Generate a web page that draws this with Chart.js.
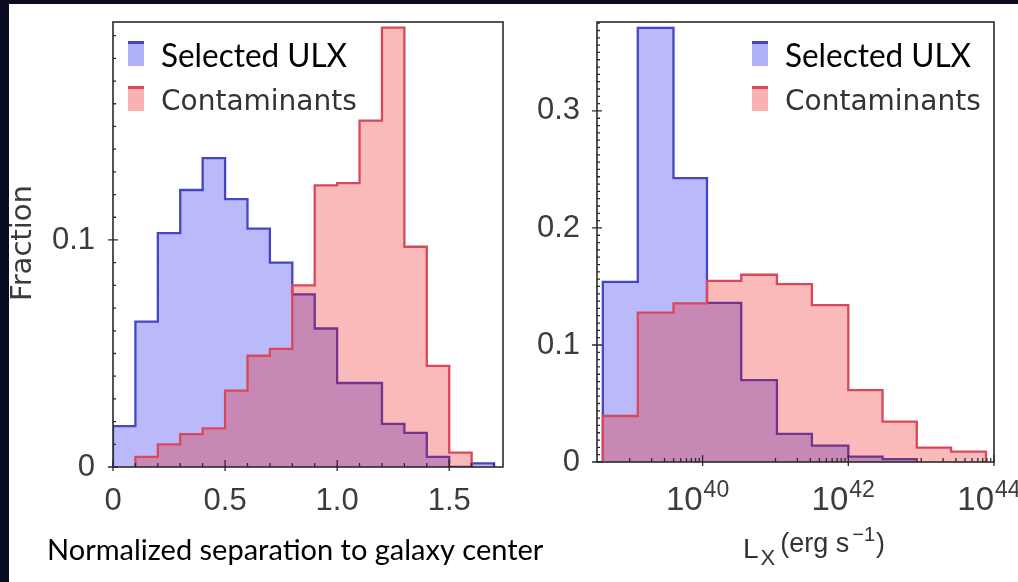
<!DOCTYPE html>
<html>
<head>
<meta charset="utf-8">
<script src="https://cdn.jsdelivr.net/npm/chart.js@4.4.1/dist/chart.umd.min.js"></script>
<style>
  html, body { margin: 0; padding: 0; }
  body { width: 1018px; height: 582px; background: #0a0d22; position: relative; overflow: hidden; }
  #sheet { position: absolute; left: 9px; top: 4px; right: 0; bottom: 0; background: #fff; }
  #sepChart { position: absolute; left: 0; top: 0; }
  #lumChart { position: absolute; left: 510px; top: 0; }
</style>
</head>
<body>
<div id="sheet"></div>
<canvas id="sepChart" width="580" height="582"></canvas>
<canvas id="lumChart" width="508" height="582"></canvas>
<script>
// ========== DATA ==========

// left panel: normalized separation to galaxy center, bin edges + fractions
const sepEdges = [0, 0.1, 0.2, 0.3, 0.4, 0.5, 0.6, 0.7, 0.8, 0.9, 1.0, 1.1, 1.2, 1.3, 1.4, 1.5, 1.6, 1.7];
const sepUlx = [0.018, 0.064, 0.103, 0.122, 0.136, 0.118, 0.105, 0.090, 0.076, 0.061, 0.037, 0.037, 0.019, 0.015, 0.0045, 0, 0.0016];
const sepCont = [0, 0.0045, 0.010, 0.0145, 0.017, 0.0336, 0.049, 0.052, 0.080, 0.124, 0.125, 0.1526, 0.1935, 0.097, 0.0445, 0.0063, 0];

// right panel: L_X, bin edges given as log10(erg/s)
const lumEdgesLog = [38.63, 39.11, 39.60, 40.06, 40.53, 41.02, 41.50, 42.00, 42.47, 42.94, 43.41, 43.89];
const lumUlx = [0.154, 0.371, 0.2425, 0.136, 0.070, 0.024, 0.014, 0.0046, 0.0025, 0, 0];
const lumCont = [0.0393, 0.1276, 0.1356, 0.1547, 0.160, 0.152, 0.134, 0.0615, 0.0345, 0.0122, 0.0088];

// tick labels
const sepXTicks = [0, 0.5, 1.0, 1.5];
const sepYTicks = [0, 0.1];
const lumYTicks = [0, 0.1, 0.2, 0.3];
const lumXTickExp = [40, 42, 44];
const lumMinorDecades = [39, 41, 43];

const seriesNames = ['Selected ULX', 'Contaminants'];

// ========== STYLE ==========

const BLUE_LINE = '#4646c4';
const BLUE_FILL = 'rgba(0, 0, 235, 0.27)';
const RED_LINE = '#d8485a';
const RED_FILL = 'rgba(235, 0, 0, 0.27)';
const AXIS_COLOR = '#2b2b2b';
const TICK_FONT = {family: 'Liberation Sans', size: 31};
const TICK_COLOR = '#3c3c3c';

// ========== HELPERS ==========

// histogram outline as step points, trimmed of empty bins at both ends
function stepPoints(edges, values, toX) {
    const a = values.findIndex(v => v > 0);
    let b = values.length - 1;
    while (b > a && values[b] === 0) b--;
    const pts = [{x: toX(edges[a]), y: 0}];
    for (let i = a; i <= b; i++) {
        pts.push({x: toX(edges[i]), y: values[i]});
    }
    pts.push({x: toX(edges[b + 1]), y: 0});
    return pts;
}

function histSet(label, pts, line, fill, order) {
    return {
        label: label,
        data: pts,
        borderColor: line,
        backgroundColor: fill,
        borderWidth: 2.3,
        fill: 'origin',
        stepped: 'before',
        pointRadius: 0,
        order: order
    };
}

const fmtTick = v => (v === 0 ? '0' : v.toFixed(1));

// fixed axis box, no extra label padding pushing the plot area around
const fixSize = (w, h) => s => {
    if (w !== null) s.width = w;
    if (h !== null) s.height = h;
    s.paddingTop = 0;
    s.paddingBottom = 0;
    s.paddingLeft = 0;
    s.paddingRight = 0;
};

// ========== PLUGINS ==========

// box around the plot plus inward minor / major tick marks
const frameTicks = {
    id: 'frameTicks',
    afterDatasetsDraw(chart, args, opts) {
        const {ctx, chartArea: a, scales: {x, y}} = chart;
        ctx.save();
        ctx.strokeStyle = AXIS_COLOR;
        ctx.lineWidth = 1.6;
        ctx.strokeRect(a.left, a.top, a.right - a.left, a.bottom - a.top);

        ctx.lineWidth = 1.3;
        ctx.beginPath();
        opts.xMinor.forEach(v => {
            const px = x.getPixelForValue(v);
            if (px < a.left - 1 || px > a.right + 1) return;
            ctx.moveTo(px, a.bottom);
            ctx.lineTo(px, a.bottom - 4);
        });
        opts.xMajor.forEach(v => {
            const px = x.getPixelForValue(v);
            ctx.moveTo(px, a.bottom + 4);
            ctx.lineTo(px, a.bottom - 7);
        });
        opts.yMinor.forEach(v => {
            const py = y.getPixelForValue(v);
            if (py < a.top + 1) return;
            ctx.moveTo(a.left, py);
            ctx.lineTo(a.left + 3, py);
        });
        opts.yMajor.forEach(v => {
            const py = y.getPixelForValue(v);
            ctx.moveTo(a.left - 5, py);
            ctx.lineTo(a.left + 5, py);
        });
        ctx.stroke();
        ctx.restore();
    }
};

// legend drawn inside the plot: narrow swatch with a darker top edge
const insideLegend = {
    id: 'insideLegend',
    afterDraw(chart, args, opts) {
        const ctx = chart.ctx;
        ctx.save();
        opts.rows.forEach(row => {
            ctx.fillStyle = row.fill;
            ctx.fillRect(opts.x, row.top, 16, 25);
            ctx.fillStyle = row.line;
            ctx.fillRect(opts.x, row.top, 16, 3);
            ctx.font = row.font;
            ctx.fillStyle = row.color;
            ctx.textAlign = 'left';
            ctx.textBaseline = 'alphabetic';
            ctx.fillText(row.label, opts.textX, row.base, row.maxWidth);
        });
        ctx.restore();
    }
};

// free text: axis titles and composed labels
const freeText = {
    id: 'freeText',
    afterDraw(chart, args, opts) {
        const ctx = chart.ctx;
        ctx.save();
        (opts.items || []).forEach(t => {
            ctx.save();
            ctx.font = t.font;
            ctx.fillStyle = t.color;
            ctx.textAlign = t.align || 'left';
            ctx.textBaseline = t.baseline || 'alphabetic';
            ctx.translate(t.x, t.y);
            if (t.rotate) ctx.rotate(t.rotate);
            if (t.maxWidth) ctx.fillText(t.text, 0, 0, t.maxWidth);
            else ctx.fillText(t.text, 0, 0);
            ctx.restore();
        });
        // runs of text with baseline offsets (sub/superscripts)
        (opts.runs || []).forEach(r => {
            let cx = r.x;
            r.parts.forEach(p => {
                ctx.font = p.size + 'px ' + r.family;
                ctx.fillStyle = r.color;
                ctx.textAlign = 'left';
                ctx.textBaseline = 'alphabetic';
                cx += p.gap || 0;
                ctx.fillText(p.text, cx, r.y + (p.dy || 0));
                cx += ctx.measureText(p.text).width;
            });
        });
        ctx.restore();
    }
};

// powers of ten under the log axis
const powerLabels = {
    id: 'powerLabels',
    afterDraw(chart, args, opts) {
        const {ctx, scales: {x}} = chart;
        ctx.save();
        ctx.fillStyle = TICK_COLOR;
        ctx.textBaseline = 'alphabetic';
        opts.exponents.forEach(e => {
            const px = x.getPixelForValue(Math.pow(10, e));
            ctx.font = '33px "Liberation Sans"';
            ctx.textAlign = 'right';
            ctx.fillText('10', px, opts.base);
            ctx.font = '23px "Liberation Sans"';
            ctx.textAlign = 'left';
            ctx.fillText(String(e), px + 1, opts.base - 13);
        });
        ctx.restore();
    }
};

Chart.register(frameTicks, insideLegend, freeText, powerLabels);

// minor tick positions
const sepXMinor = sepEdges.filter(v => !sepXTicks.some(t => Math.abs(t - v) < 1e-9));
const sepYMinor = [];
for (let i = 1; i < 20; i++) sepYMinor.push(i * 0.01);
const lumYMinor = [];
for (let i = 1; i < 61; i++) lumYMinor.push(i * 0.00625);
const lumXMinor = [];
lumMinorDecades.forEach(d => {
    for (let m = 1; m <= 9; m++) lumXMinor.push(m * Math.pow(10, d));
});

const legendRows = () => [
    {label: seriesNames[0], top: 41, base: 67, fill: 'rgba(0,0,235,0.30)', line: BLUE_LINE,
     font: '32px Lato', color: '#000', maxWidth: 186},
    {label: seriesNames[1], top: 86, base: 110, fill: 'rgba(235,0,0,0.30)', line: RED_LINE,
     font: '28px "DejaVu Sans"', color: '#333', maxWidth: 196}
];

// ========== LEFT CHART ==========

new Chart(document.getElementById('sepChart'), {
    type: 'line',
    data: {
        datasets: [
            histSet(seriesNames[0], stepPoints(sepEdges, sepUlx, v => v), BLUE_LINE, BLUE_FILL, 1),
            histSet(seriesNames[1], stepPoints(sepEdges, sepCont, v => v), RED_LINE, RED_FILL, 0)
        ]
    },
    options: {
        responsive: false,
        animation: false,
        events: [],
        layout: {padding: {left: 0, top: 22, right: 77, bottom: 55}},
        plugins: {
            legend: {display: false},
            tooltip: {enabled: false},
            frameTicks: {xMinor: sepXMinor, xMajor: sepXTicks, yMinor: sepYMinor, yMajor: sepYTicks},
            insideLegend: {x: 128, textX: 161, rows: legendRows()},
            freeText: {
                items: [
                    {text: 'Fraction', x: 23, y: 243, rotate: -Math.PI / 2, align: 'center', baseline: 'middle',
                     font: '29px "DejaVu Sans"', color: '#3a3a3a'},
                    {text: 'Normalized separation to galaxy center', x: 47, y: 560,
                     font: '29px Lato', color: '#000', maxWidth: 500}
                ]
            },
            powerLabels: {exponents: [], base: 0}
        },
        scales: {
            x: {
                type: 'linear',
                min: 0,
                max: 1.74,
                grid: {display: false, drawTicks: false},
                border: {display: false},
                afterBuildTicks: s => { s.ticks = sepXTicks.map(v => ({value: v})); },
                ticks: {padding: 16, color: TICK_COLOR, font: TICK_FONT, maxRotation: 0, autoSkip: false, callback: fmtTick},
                afterFit: fixSize(null, 60)
            },
            y: {
                min: 0,
                max: 0.196,
                grid: {display: false, drawTicks: false},
                border: {display: false},
                afterBuildTicks: s => { s.ticks = sepYTicks.map(v => ({value: v})); },
                ticks: {padding: 18, color: TICK_COLOR, font: TICK_FONT, callback: fmtTick},
                afterFit: fixSize(113, null)
            }
        }
    }
});

// ========== RIGHT CHART ==========

const lumToX = e => Math.pow(10, e);

new Chart(document.getElementById('lumChart'), {
    type: 'line',
    data: {
        datasets: [
            histSet(seriesNames[0], stepPoints(lumEdgesLog, lumUlx, lumToX), BLUE_LINE, BLUE_FILL, 1),
            histSet(seriesNames[1], stepPoints(lumEdgesLog, lumCont, lumToX), RED_LINE, RED_FILL, 0)
        ]
    },
    options: {
        responsive: false,
        animation: false,
        events: [],
        layout: {padding: {left: 0, top: 22, right: 24, bottom: 60}},
        plugins: {
            legend: {display: false},
            tooltip: {enabled: false},
            frameTicks: {
                xMinor: lumXMinor,
                xMajor: lumXTickExp.map(e => Math.pow(10, e)),
                yMinor: lumYMinor,
                yMajor: lumYTicks
            },
            insideLegend: {x: 242, textX: 275, rows: legendRows()},
            freeText: {
                runs: [{
                    x: 233, y: 558, family: '"Liberation Sans"', color: '#333',
                    parts: [
                        {text: 'L', size: 28},
                        {text: 'X', size: 22, dy: 7, gap: 2},
                        {text: '(erg s', size: 27, gap: 5, dy: -6},
                        {text: '\u22121', size: 20, dy: -17, gap: 3},
                        {text: ')', size: 27, dy: -6, gap: 1}
                    ]
                }]
            },
            powerLabels: {exponents: lumXTickExp, base: 510}
        },
        scales: {
            x: {
                type: 'logarithmic',
                min: Math.pow(10, 38.55),
                max: 1e44,
                grid: {display: false, drawTicks: false},
                border: {display: false},
                ticks: {display: false},
                afterFit: fixSize(null, 60)
            },
            y: {
                min: 0,
                max: 0.376,
                grid: {display: false, drawTicks: false},
                border: {display: false},
                afterBuildTicks: s => { s.ticks = lumYTicks.map(v => ({value: v})); },
                ticks: {padding: 17, color: TICK_COLOR, font: TICK_FONT, callback: fmtTick},
                afterFit: fixSize(87, null)
            }
        }
    }
});
</script>
</body>
</html>
